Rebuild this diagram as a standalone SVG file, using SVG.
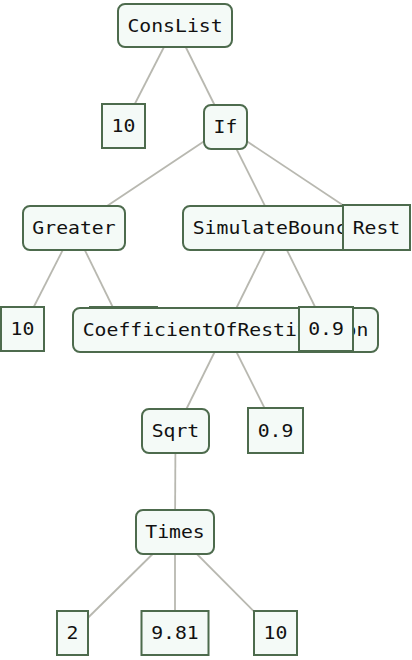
<svg xmlns="http://www.w3.org/2000/svg" width="412" height="660" viewBox="0 0 412 660">
<style>
.op{fill:#f4faf7;stroke:#4d6b4d;stroke-width:2}
.lf{fill:#f4faf7;stroke:#4d6b4d;stroke-width:2}
.e{stroke:#b8b8b0;stroke-width:1.8;fill:none}
text{font-family:"DejaVu Sans Mono","Liberation Mono",monospace;font-size:17px;fill:#111;text-anchor:middle}
</style>
<rect width="412" height="660" fill="#ffffff"/>
<g id="connectors">
<line class="e" x1="175" y1="25.5" x2="123.5" y2="126"/>
<line class="e" x1="175" y1="25.5" x2="225.5" y2="127"/>
<line class="e" x1="225.5" y1="127" x2="74" y2="228"/>
<line class="e" x1="225.5" y1="127" x2="276" y2="228"/>
<line class="e" x1="225.5" y1="127" x2="376.5" y2="227.5"/>
<line class="e" x1="74" y1="228" x2="22.5" y2="329"/>
<line class="e" x1="74" y1="228" x2="123.5" y2="329"/>
<line class="e" x1="276" y1="228" x2="225.5" y2="330"/>
<line class="e" x1="276" y1="228" x2="326" y2="329"/>
<line class="e" x1="225.5" y1="330" x2="175.5" y2="431"/>
<line class="e" x1="225.5" y1="330" x2="275.5" y2="430"/>
<line class="e" x1="175.5" y1="431" x2="175" y2="532"/>
<line class="e" x1="175" y1="532" x2="72.5" y2="633"/>
<line class="e" x1="175" y1="532" x2="175" y2="633"/>
<line class="e" x1="175" y1="532" x2="275.5" y2="633"/>
</g>
<g id="n-conslist"><rect class="op" x="118" y="4" width="114" height="43" rx="7"/><text x="175" y="31.5" textLength="95.2" lengthAdjust="spacingAndGlyphs">ConsList</text></g>
<g id="n-10a"><rect class="lf" x="102" y="104" width="43" height="44"/><text x="123.5" y="132" textLength="23.8" lengthAdjust="spacingAndGlyphs">10</text></g>
<g id="n-if"><rect class="op" x="204" y="105" width="43" height="44" rx="7"/><text x="225.5" y="133" textLength="23.8" lengthAdjust="spacingAndGlyphs">If</text></g>
<g id="n-greater"><rect class="op" x="23" y="206" width="102" height="44" rx="7"/><text x="74" y="234" textLength="83.3" lengthAdjust="spacingAndGlyphs">Greater</text></g>
<g id="n-simulate"><rect class="op" x="183" y="206" width="186" height="44" rx="7"/><text x="276" y="234" textLength="166.6" lengthAdjust="spacingAndGlyphs">SimulateBounce</text></g>
<g id="n-rest"><rect class="lf" x="343" y="205" width="67" height="45"/><text x="376.5" y="233.5" textLength="47.6" lengthAdjust="spacingAndGlyphs">Rest</text></g>
<g id="n-10b"><rect class="lf" x="1" y="307" width="43" height="44"/><text x="22.5" y="335" textLength="23.8" lengthAdjust="spacingAndGlyphs">10</text></g>
<g id="n-hidden"><rect class="lf" x="90" y="307" width="67" height="44"/></g>
<g id="n-coef"><rect class="op" x="73" y="308" width="305" height="44" rx="7"/><text x="225.5" y="336" textLength="285.6" lengthAdjust="spacingAndGlyphs">CoefficientOfRestitution</text></g>
<g id="n-09a"><rect class="lf" x="299" y="307" width="54" height="44"/><text x="326" y="335" textLength="35.7" lengthAdjust="spacingAndGlyphs">0.9</text></g>
<g id="n-sqrt"><rect class="op" x="142" y="409" width="67" height="44" rx="7"/><text x="175.5" y="437" textLength="47.6" lengthAdjust="spacingAndGlyphs">Sqrt</text></g>
<g id="n-09b"><rect class="lf" x="248" y="408" width="55" height="45"/><text x="275.5" y="436.5" textLength="35.7" lengthAdjust="spacingAndGlyphs">0.9</text></g>
<g id="n-times"><rect class="op" x="136" y="510" width="78" height="44" rx="7"/><text x="175" y="538" textLength="59.5" lengthAdjust="spacingAndGlyphs">Times</text></g>
<g id="n-2"><rect class="lf" x="57" y="611" width="31" height="44"/><text x="72.5" y="639" textLength="11.9" lengthAdjust="spacingAndGlyphs">2</text></g>
<g id="n-981"><rect class="lf" x="141.5" y="611" width="67" height="44"/><text x="175" y="639" textLength="47.6" lengthAdjust="spacingAndGlyphs">9.81</text></g>
<g id="n-10c"><rect class="lf" x="254" y="611" width="43" height="44"/><text x="275.5" y="639" textLength="23.8" lengthAdjust="spacingAndGlyphs">10</text></g>
</svg>
